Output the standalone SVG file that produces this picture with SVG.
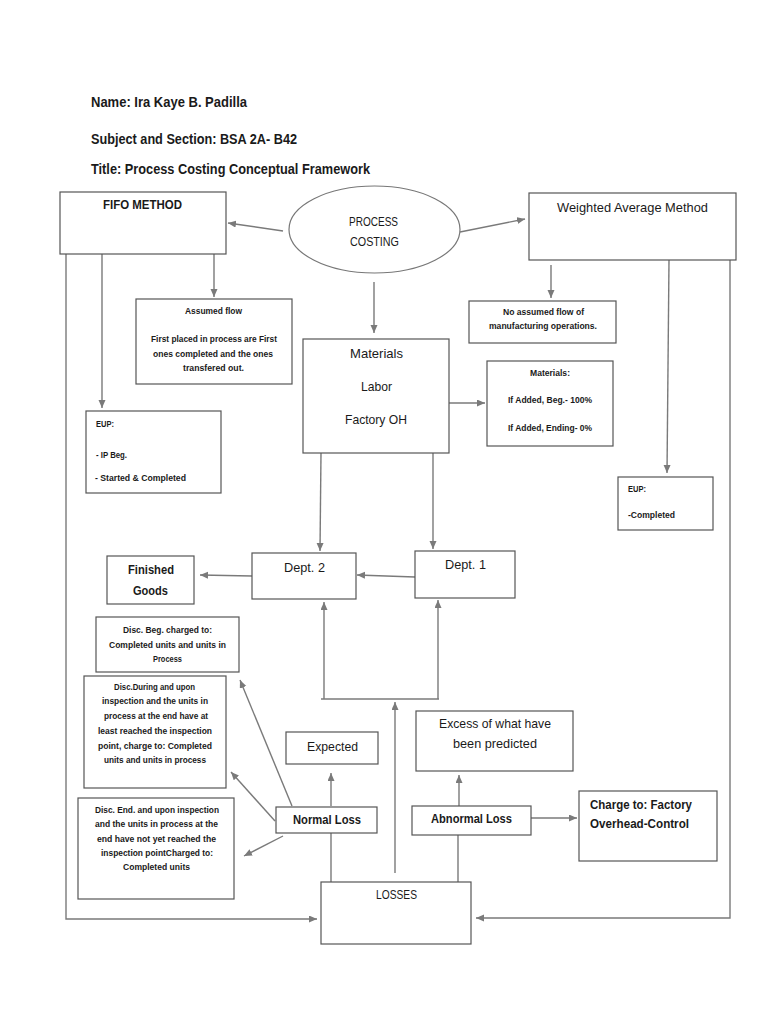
<svg xmlns="http://www.w3.org/2000/svg" width="768" height="1024" viewBox="0 0 768 1024">
<style>
.bg{fill:#fff}
.box{fill:#fff;stroke:#555;stroke-width:1.2}
.ln{fill:none;stroke:#7a7a7a;stroke-width:1.4}
.ar{fill:none;stroke:#7a7a7a;stroke-width:1.4;marker-end:url(#ah)}
text{font-family:"Liberation Sans",Arial,sans-serif;fill:#1a1a1a}
.h{font-size:14px;font-weight:bold}
.m{font-size:13.5px}
.mb{font-size:13px;font-weight:bold}
.s{font-size:8.8px;font-weight:bold}
</style>
<defs>
<marker id="ah" markerUnits="userSpaceOnUse" markerWidth="9" markerHeight="8" refX="8" refY="3.5" orient="auto">
<path d="M0,0 L8,3.5 L0,7 z" fill="#7a7a7a"/>
</marker>
</defs>
<rect class="bg" x="0" y="0" width="768" height="1024"/>
<g id="header">
<text class="h" x="91" y="107" textLength="156" lengthAdjust="spacingAndGlyphs">Name: Ira Kaye B. Padilla</text>
<text class="h" x="91" y="144" textLength="206" lengthAdjust="spacingAndGlyphs">Subject and Section: BSA 2A- B42</text>
<text class="h" x="91" y="174" textLength="279" lengthAdjust="spacingAndGlyphs">Title: Process Costing Conceptual Framework</text>
</g>
<g id="connectors">
<line class="ar" x1="283" y1="231" x2="228" y2="223"/>
<line class="ar" x1="460" y1="232" x2="525" y2="219"/>
<line class="ar" x1="374" y1="282" x2="374" y2="333"/>
<line class="ar" x1="214" y1="254" x2="214" y2="297"/>
<line class="ar" x1="102" y1="254" x2="102" y2="408"/>
<polyline class="ar" points="66,254 66,919 317,919"/>
<line class="ar" x1="551" y1="265" x2="551" y2="298"/>
<line class="ar" x1="669" y1="260" x2="667" y2="473"/>
<polyline class="ar" points="730,260 730,918 476,918"/>
<line class="ar" x1="449" y1="403" x2="485" y2="403"/>
<line class="ar" x1="321" y1="453" x2="320" y2="551"/>
<line class="ar" x1="433" y1="453" x2="433" y2="549"/>
<line class="ar" x1="415" y1="577" x2="357" y2="575"/>
<line class="ar" x1="252" y1="576" x2="200" y2="575"/>
<line class="ln" x1="321" y1="699" x2="439" y2="699"/>
<line class="ar" x1="324" y1="699" x2="324" y2="602"/>
<line class="ar" x1="438" y1="699" x2="438" y2="600"/>
<line class="ar" x1="395" y1="873" x2="395" y2="702"/>
<line class="ar" x1="331" y1="806" x2="331" y2="773"/>
<line class="ar" x1="292" y1="806" x2="240" y2="680"/>
<line class="ar" x1="275" y1="821" x2="231" y2="772"/>
<line class="ar" x1="283" y1="836" x2="244" y2="856"/>
<line class="ln" x1="331" y1="833" x2="331" y2="882"/>
<line class="ar" x1="459" y1="806" x2="459" y2="775"/>
<line class="ln" x1="458" y1="835" x2="458" y2="882"/>
<line class="ar" x1="531" y1="818" x2="577" y2="818"/>
</g>
<g id="process-costing">
<ellipse cx="374.5" cy="229.5" rx="85.5" ry="43.5" fill="#fff" stroke="#777" stroke-width="1.2"/>
<text class="m" x="349" y="226" textLength="49" lengthAdjust="spacingAndGlyphs">PROCESS</text>
<text class="m" x="350" y="246" textLength="49" lengthAdjust="spacingAndGlyphs">COSTING</text>
</g>
<g id="fifo">
<rect class="box" x="60" y="192" width="166" height="62"/>
<text class="mb" x="103" y="209" textLength="79" lengthAdjust="spacingAndGlyphs">FIFO METHOD</text>
</g>
<g id="wam">
<rect class="box" x="529" y="193" width="207" height="67"/>
<text class="m" x="557" y="212" textLength="151" lengthAdjust="spacingAndGlyphs">Weighted Average Method</text>
</g>
<g id="assumed-flow">
<rect class="box" x="136" y="299" width="156" height="85"/>
<text class="s" x="185" y="314" textLength="57" lengthAdjust="spacingAndGlyphs">Assumed flow</text>
<text class="s" x="151" y="342" textLength="126" lengthAdjust="spacingAndGlyphs">First placed in process are First</text>
<text class="s" x="153" y="357" textLength="120" lengthAdjust="spacingAndGlyphs">ones completed and the ones</text>
<text class="s" x="183" y="371" textLength="61" lengthAdjust="spacingAndGlyphs">transfered out.</text>
</g>
<g id="no-assumed-flow">
<rect class="box" x="469" y="301" width="147" height="42"/>
<text class="s" x="503" y="315" textLength="81" lengthAdjust="spacingAndGlyphs">No assumed flow of</text>
<text class="s" x="489" y="329" textLength="108" lengthAdjust="spacingAndGlyphs">manufacturing operations.</text>
</g>
<g id="materials">
<rect class="box" x="303" y="339" width="146" height="114"/>
<text class="m" x="350" y="358" textLength="53" lengthAdjust="spacingAndGlyphs">Materials</text>
<text class="m" x="361" y="391" textLength="31" lengthAdjust="spacingAndGlyphs">Labor</text>
<text class="m" x="345" y="424" textLength="62" lengthAdjust="spacingAndGlyphs">Factory OH</text>
</g>
<g id="materials-info">
<rect class="box" x="487" y="361" width="126" height="85"/>
<text class="s" x="530" y="376" textLength="40" lengthAdjust="spacingAndGlyphs">Materials:</text>
<text class="s" x="508" y="403" textLength="84" lengthAdjust="spacingAndGlyphs">If Added, Beg.- 100%</text>
<text class="s" x="508" y="431" textLength="84" lengthAdjust="spacingAndGlyphs">If Added, Ending- 0%</text>
</g>
<g id="eup-fifo">
<rect class="box" x="86" y="411" width="135" height="82"/>
<text class="s" x="96" y="427" textLength="18" lengthAdjust="spacingAndGlyphs">EUP:</text>
<text class="s" x="96" y="458" textLength="31" lengthAdjust="spacingAndGlyphs">- IP Beg.</text>
<text class="s" x="95" y="481" textLength="91" lengthAdjust="spacingAndGlyphs">- Started &amp; Completed</text>
</g>
<g id="eup-wam">
<rect class="box" x="618" y="477" width="95" height="53"/>
<text class="s" x="628" y="492" textLength="18" lengthAdjust="spacingAndGlyphs">EUP:</text>
<text class="s" x="628" y="518" textLength="47" lengthAdjust="spacingAndGlyphs">-Completed</text>
</g>
<g id="finished-goods">
<rect class="box" x="107" y="556" width="87" height="48"/>
<text class="mb" x="128" y="574" textLength="46" lengthAdjust="spacingAndGlyphs">Finished</text>
<text class="mb" x="133" y="595" textLength="35" lengthAdjust="spacingAndGlyphs">Goods</text>
</g>
<g id="dept2">
<rect class="box" x="252" y="553" width="104" height="46"/>
<text class="m" x="284" y="572" textLength="41" lengthAdjust="spacingAndGlyphs">Dept. 2</text>
</g>
<g id="dept1">
<rect class="box" x="415" y="551" width="100" height="47"/>
<text class="m" x="445" y="569" textLength="41" lengthAdjust="spacingAndGlyphs">Dept. 1</text>
</g>
<g id="disc-beg">
<rect class="box" x="96" y="617" width="143" height="55"/>
<text class="s" x="123" y="633" textLength="89" lengthAdjust="spacingAndGlyphs">Disc. Beg. charged to:</text>
<text class="s" x="109" y="648" textLength="117" lengthAdjust="spacingAndGlyphs">Completed units and units in</text>
<text class="s" x="153" y="662" textLength="29" lengthAdjust="spacingAndGlyphs">Process</text>
</g>
<g id="disc-during">
<rect class="box" x="84" y="676" width="142" height="112"/>
<text class="s" x="114" y="690" textLength="81" lengthAdjust="spacingAndGlyphs">Disc.During and upon</text>
<text class="s" x="102" y="704" textLength="106" lengthAdjust="spacingAndGlyphs">inspection and the units in</text>
<text class="s" x="104" y="719" textLength="104" lengthAdjust="spacingAndGlyphs">process at the end have at</text>
<text class="s" x="98" y="734" textLength="114" lengthAdjust="spacingAndGlyphs">least reached the inspection</text>
<text class="s" x="98" y="749" textLength="114" lengthAdjust="spacingAndGlyphs">point, charge to: Completed</text>
<text class="s" x="104" y="763" textLength="102" lengthAdjust="spacingAndGlyphs">units and units in process</text>
</g>
<g id="disc-end">
<rect class="box" x="78" y="798" width="156" height="101"/>
<text class="s" x="95" y="813" textLength="124" lengthAdjust="spacingAndGlyphs">Disc. End. and upon inspection</text>
<text class="s" x="95" y="827" textLength="123" lengthAdjust="spacingAndGlyphs">and the units in process at the</text>
<text class="s" x="97" y="842" textLength="119" lengthAdjust="spacingAndGlyphs">end have not yet reached the</text>
<text class="s" x="101" y="856" textLength="112" lengthAdjust="spacingAndGlyphs">inspection pointCharged to:</text>
<text class="s" x="123" y="870" textLength="67" lengthAdjust="spacingAndGlyphs">Completed units</text>
</g>
<g id="expected">
<rect class="box" x="286" y="732" width="92" height="32"/>
<text class="m" x="307" y="751" textLength="51" lengthAdjust="spacingAndGlyphs">Expected</text>
</g>
<g id="excess">
<rect class="box" x="416" y="711" width="157" height="60"/>
<text class="m" x="439" y="728" textLength="112" lengthAdjust="spacingAndGlyphs">Excess of what have</text>
<text class="m" x="453" y="748" textLength="84" lengthAdjust="spacingAndGlyphs">been predicted</text>
</g>
<g id="normal-loss">
<rect class="box" x="276" y="807" width="101" height="26"/>
<text class="mb" x="293" y="824" textLength="68" lengthAdjust="spacingAndGlyphs">Normal Loss</text>
</g>
<g id="abnormal-loss">
<rect class="box" x="412" y="806" width="119" height="29"/>
<text class="mb" x="431" y="823" textLength="81" lengthAdjust="spacingAndGlyphs">Abnormal Loss</text>
</g>
<g id="charge">
<rect class="box" x="579" y="791" width="138" height="70"/>
<text class="mb" x="590" y="809" textLength="102" lengthAdjust="spacingAndGlyphs">Charge to: Factory</text>
<text class="mb" x="590" y="828" textLength="99" lengthAdjust="spacingAndGlyphs">Overhead-Control</text>
</g>
<g id="losses">
<rect class="box" x="321" y="882" width="150" height="62"/>
<text class="m" x="376" y="899" textLength="41" lengthAdjust="spacingAndGlyphs">LOSSES</text>
</g>
</svg>
